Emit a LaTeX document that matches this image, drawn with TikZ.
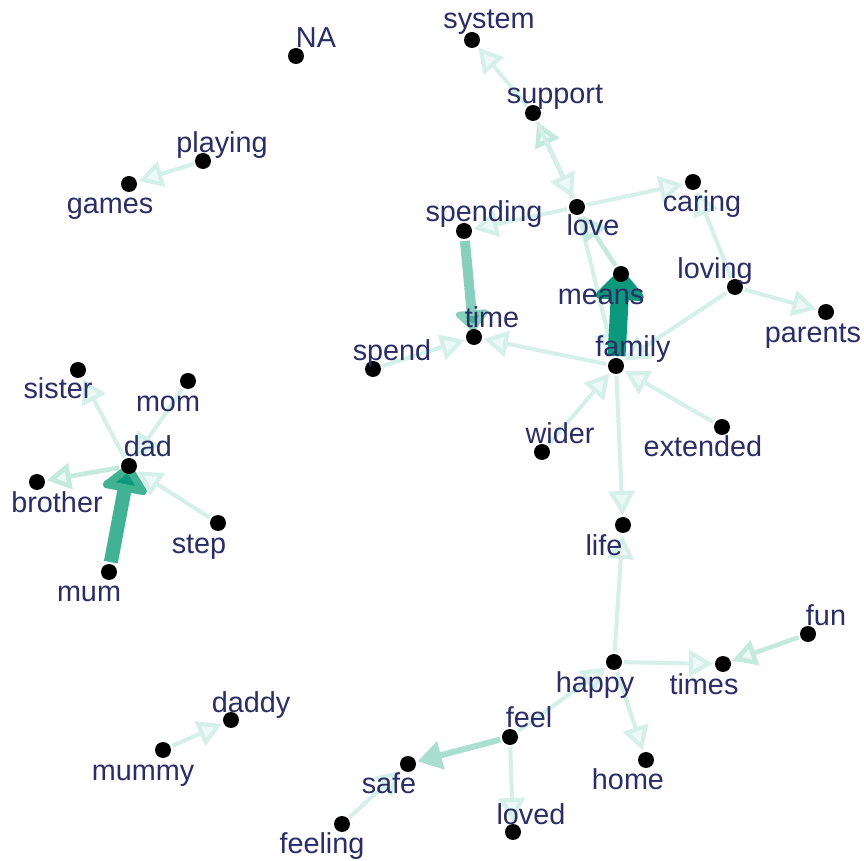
\documentclass[tikz,border=0pt]{standalone}
\usepackage{fontspec}
\setmainfont{Liberation Sans}
\usetikzlibrary{arrows.meta}
\pgfdeclarelayer{bg}
\pgfsetlayers{bg,main}
\definecolor{lblcol}{RGB}{42,45,102}
\definecolor{thinc}{RGB}{212,240,232}
\definecolor{thinf}{RGB}{236,249,245}
\definecolor{thinc2}{RGB}{196,234,222}
\definecolor{tealA}{RGB}{12,152,122}
\definecolor{tealB}{RGB}{66,178,148}
\definecolor{tealC}{RGB}{136,207,188}
\definecolor{tealD}{RGB}{170,222,207}
\tikzset{
  x=0.5pt, y=-0.5pt,
  dot/.style={circle, fill=black, inner sep=0pt, minimum size=8pt, outer sep=1pt},
  lbl/.style={text=lblcol, font=\fontsize{14.4pt}{16pt}\selectfont, inner sep=0pt, text height=0.86em, text depth=0pt, anchor=center},
  edge/.style={draw=thinc, line width=2pt, -{Triangle[length=12pt,width=13pt,fill=thinf]}},
  edge2/.style={draw=thinc2, line width=2.3pt, -{Triangle[length=12pt,width=13pt,fill=thinf]}},
}
\begin{document}
\begin{tikzpicture}
\useasboundingbox (0,0) rectangle (864,861);
% dots
\node[dot] (NA) at (296,56) {};
\node[dot] (system) at (472,40) {};
\node[dot] (support) at (533,113) {};
\node[dot] (playing) at (203,161) {};
\node[dot] (games) at (129,184) {};
\node[dot] (spending) at (464,231) {};
\node[dot] (love) at (577,207) {};
\node[dot] (caring) at (693,182) {};
\node[dot] (loving) at (735,287) {};
\node[dot] (parents) at (826,312) {};
\node[dot] (means) at (621,274) {};
\node[dot] (time) at (474,337) {};
\node[dot] (spend) at (373,369) {};
\node[dot] (family) at (616,366) {};
\node[dot] (wider) at (542,452) {};
\node[dot] (extended) at (722,427) {};
\node[dot] (sister) at (78,370) {};
\node[dot] (mom) at (188,381) {};
\node[dot] (dad) at (129,466) {};
\node[dot] (brother) at (37,482) {};
\node[dot] (step) at (218,523) {};
\node[dot] (mum) at (109,572) {};
\node[dot] (life) at (623,525) {};
\node[dot] (fun) at (808,634) {};
\node[dot] (happy) at (614,662) {};
\node[dot] (times) at (723,664) {};
\node[dot] (daddy) at (231,720) {};
\node[dot] (mummy) at (163,750) {};
\node[dot] (feel) at (510,737) {};
\node[dot] (safe) at (408,764) {};
\node[dot] (home) at (646,760) {};
\node[dot] (loved) at (513,832) {};
\node[dot] (feeling) at (342,824) {};
% edges behind the dots
\begin{pgfonlayer}{bg}
\fill[white] (0,0) rectangle (864,861);
\draw[edge] (playing) -- (games);
\draw[edge] (support) -- (system);
\draw[edge2] (love) -- (support);
\draw[edge] (support) -- (love);
\draw[edge] (love) -- (spending);
\draw[edge] (love) -- (caring);
\draw[edge] (loving) -- (caring);
\draw[edge] (loving) -- (parents);
\draw[edge] (loving) -- (family);
\draw[edge] (love) -- (family);
\draw[edge2] (means) -- (love);
\draw[edge] (family) -- (time);
\draw[edge] (spend) -- (time);
\draw[edge] (wider) -- (family);
\draw[edge] (extended) -- (family);
\draw[edge] (family) -- (life);
\draw[edge] (happy) -- (life);
\draw[edge] (feel) -- (happy);
\draw[edge] (happy) -- (times);
\draw[edge2] (fun) -- (times);
\draw[edge] (happy) -- (home);
\draw[edge] (feeling) -- (safe);
\draw[edge] (feel) -- (loved);
\draw[edge] (mummy) -- (daddy);
\draw[edge] (dad) -- (sister);
\draw[edge] (mom) -- (dad);
\draw[edge2] (dad) -- (brother);
\draw[edge] (step) -- (dad);
\draw[draw=tealD, line width=3pt, -{Triangle[length=12pt,width=14pt,fill=tealC!70!white]}] (feel) -- (safe);
\draw[draw=tealC, line width=5pt, shorten >=-2pt, -{Triangle[length=11pt,width=19pt,fill=tealB,round]}] (spending) -- (time);
\draw[draw=tealB, line width=7pt, shorten >=-6pt, -{Triangle[length=15pt,width=26pt,fill=tealA,round]}] (mum) -- (dad);
\draw[draw=tealA, line width=9pt, shorten >=-7pt, -{Triangle[length=16pt,width=28pt,fill=tealA,round]}] (family) -- (means);
\end{pgfonlayer}
% labels
\node[lbl] (NA-l) at (316,39) {NA};
\node[lbl] (system-l) at (489,20) {system};
\node[lbl] (support-l) at (555,95) {support};
\node[lbl] (playing-l) at (222,144) {playing};
\node[lbl] (games-l) at (110,205) {games};
\node[lbl] (spending-l) at (484,213) {spending};
\node[lbl] (love-l) at (593,227) {love};
\node[lbl] (caring-l) at (702,203) {caring};
\node[lbl] (loving-l) at (715,270) {loving};
\node[lbl] (parents-l) at (813,334) {parents};
\node[lbl] (means-l) at (601,296) {means};
\node[lbl] (time-l) at (492,319) {time};
\node[lbl] (spend-l) at (392,352) {spend};
\node[lbl] (family-l) at (633,348) {family};
\node[lbl] (wider-l) at (560,435) {wider};
\node[lbl] (extended-l) at (703,448) {extended};
\node[lbl] (sister-l) at (58,390) {sister};
\node[lbl] (mom-l) at (168,403) {mom};
\node[lbl] (dad-l) at (148,448) {dad};
\node[lbl] (brother-l) at (57,504) {brother};
\node[lbl] (step-l) at (199,545) {step};
\node[lbl] (mum-l) at (89,593) {mum};
\node[lbl] (life-l) at (604,547) {life};
\node[lbl] (fun-l) at (826,617) {fun};
\node[lbl] (happy-l) at (595,684) {happy};
\node[lbl] (times-l) at (704,686) {times};
\node[lbl] (daddy-l) at (251,704) {daddy};
\node[lbl] (mummy-l) at (143,772) {mummy};
\node[lbl] (feel-l) at (529,719) {feel};
\node[lbl] (safe-l) at (389,785) {safe};
\node[lbl] (home-l) at (628,781) {home};
\node[lbl] (loved-l) at (531,816) {loved};
\node[lbl] (feeling-l) at (322,845) {feeling};
\end{tikzpicture}
\end{document}
